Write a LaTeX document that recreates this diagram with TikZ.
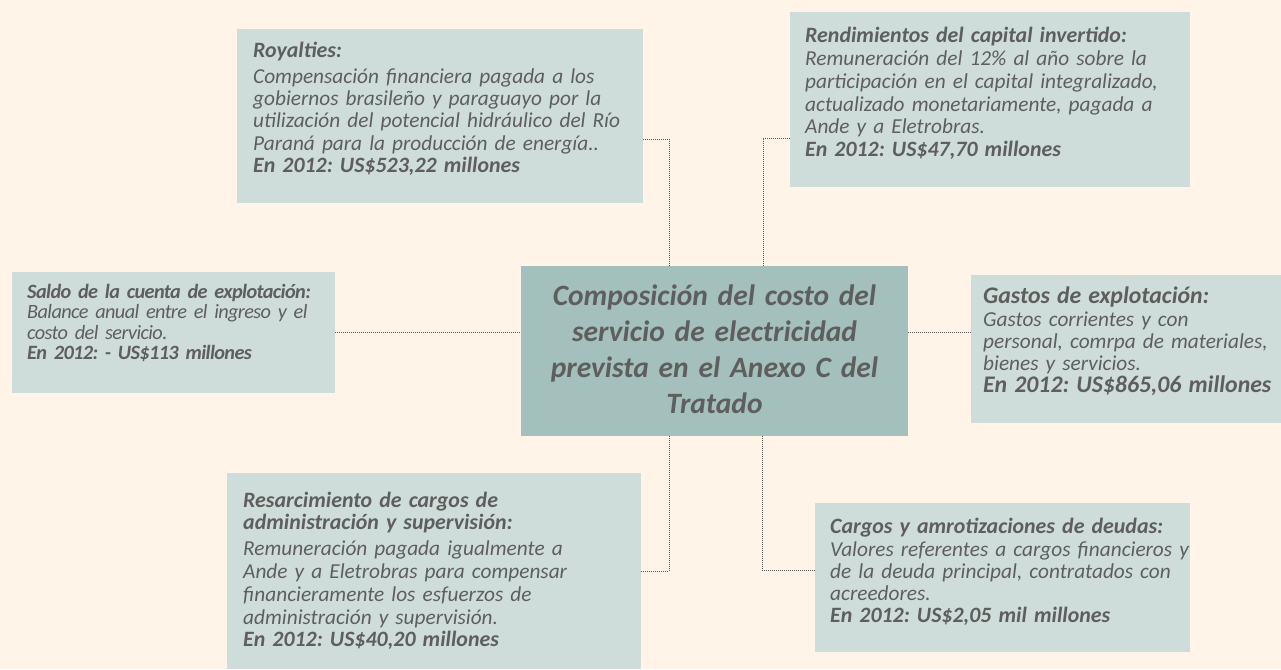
\documentclass[tikz,border=0pt]{standalone}
\usepackage{fontspec}
\setmainfont{Carlito}
\definecolor{bgc}{HTML}{FFF4E7}
\definecolor{boxc}{HTML}{CEDDD9}
\definecolor{cenc}{HTML}{A4C0BC}
\definecolor{txtc}{HTML}{5E5E5E}
\definecolor{linec}{HTML}{5A5A5A}
\newcommand\hb[1]{{\fontsize{21.9}{22.5}\selectfont\bfseries #1}}
\newcommand\hbg[1]{{\fontsize{23.8}{22.5}\selectfont\bfseries #1}}
\begin{document}
\begin{tikzpicture}[x=1pt,y=-1pt,
  box/.style={draw=none,fill=boxc,rectangle,inner sep=0pt,anchor=north west},
  cenbox/.style={draw=none,fill=cenc,rectangle,inner sep=0pt,anchor=north west},
  txt/.style={inner sep=0pt,anchor=base west,text width=460pt,align=left,text=txtc,
    font=\fontsize{21.3}{22.5}\selectfont\itshape\frenchspacing},
  ctxt/.style={inner sep=0pt,anchor=base,text width=380pt,align=center,text=txtc,
    font=\fontsize{29.5}{36}\selectfont\bfseries\itshape\frenchspacing},
  conn/.style={draw=linec,line width=0.9pt,dash pattern=on 1pt off 1pt}]
\fill[bgc] (0,0) rectangle (1281,669);
\useasboundingbox (0,0) rectangle (1281,669);
% boxes
\node[box,minimum width=406,minimum height=174] (roy) at (237,29) {};
\node[box,minimum width=400,minimum height=175] (ren) at (790,12) {};
\node[cenbox,minimum width=387,minimum height=170] (cen) at (521,266) {};
\node[box,minimum width=323,minimum height=121] (sal) at (12,272) {};
\node[box,minimum width=320,minimum height=148] (gas) at (971,275) {};
\node[box,minimum width=414,minimum height=196] (res) at (227,473) {};
\node[box,minimum width=375,minimum height=149] (car) at (815,503) {};
% texts
\node[txt] (roy-t) at (253,58) {\hb{Royalties:}\\[2.5pt]
Compensación financiera pagada a los\\
gobiernos brasileño y paraguayo por la\\
utilización del potencial hidráulico del Río\\
Paraná para la producción de energía..\\
\hb{En 2012: US\$523,22 millones}};
\node[txt] (ren-t) at (805,42) {\hb{Rendimientos del capital invertido:}\\[1.5pt]
Remuneración del 12\% al año sobre la\\
participación en el capital integralizado,\\
actualizado monetariamente, pagada a\\
Ande y a Eletrobras.\\
\hb{En 2012: US\$47,70 millones}};
\node[ctxt] (cen-t) at (714.5,305) {Composición del costo del\\
servicio de electricidad\\
prevista en el Anexo C del\\
Tratado};
\node[txt,font=\fontsize{20.3}{20.6}\selectfont\itshape\frenchspacing\addfontfeatures{LetterSpace=-3}] (sal-t) at (27,298) {\textbf{Saldo de la cuenta de explotación:}\\
Balance anual entre el ingreso y el\\
costo del servicio.\\
\textbf{En 2012: - US\$113 millones}};
\node[txt,font=\fontsize{21.3}{22}\selectfont\itshape\frenchspacing] (gas-t) at (983,303) {\hbg{Gastos de explotación:}\\[1pt]
Gastos corrientes y con\\
personal, comrpa de materiales,\\
bienes y servicios.\\
\hbg{En 2012: US\$865,06 millones}};
\node[txt,font=\fontsize{21.3}{22.8}\selectfont\itshape\frenchspacing] (res-t) at (243,507) {\hb{Resarcimiento de cargos de}\\
\hb{administración y supervisión:}\\[3pt]
Remuneración pagada igualmente a\\
Ande y a Eletrobras para compensar\\
financieramente los esfuerzos de\\
administración y supervisión.\\
\hb{En 2012: US\$40,20 millones}};
\node[txt,font=\fontsize{21.3}{22}\selectfont\itshape\frenchspacing] (car-t) at (830,533) {\hb{Cargos y amrotizaciones de deudas:}\\[1pt]
Valores referentes a cargos financieros y\\
de la deuda principal, contratados con\\
acreedores.\\
\hb{En 2012: US\$2,05 mil millones}};
% connectors
\coordinate (j1) at (669,139);
\coordinate (j2) at (763,138);
\coordinate (j3) at (0,332);
\coordinate (j5) at (669,571);
\coordinate (j6) at (762,570);
\draw[conn] (roy.east |- j1) -| (cen.north -| j1);
\draw[conn] (ren.west |- j2) -| (cen.north -| j2);
\draw[conn] (sal.east |- j3) -- (cen.west |- j3);
\draw[conn] (cen.east |- j3) -- (gas.west |- j3);
\draw[conn] (res.east |- j5) -| (cen.south -| j5);
\draw[conn] (car.west |- j6) -| (cen.south -| j6);
\end{tikzpicture}
\end{document}
